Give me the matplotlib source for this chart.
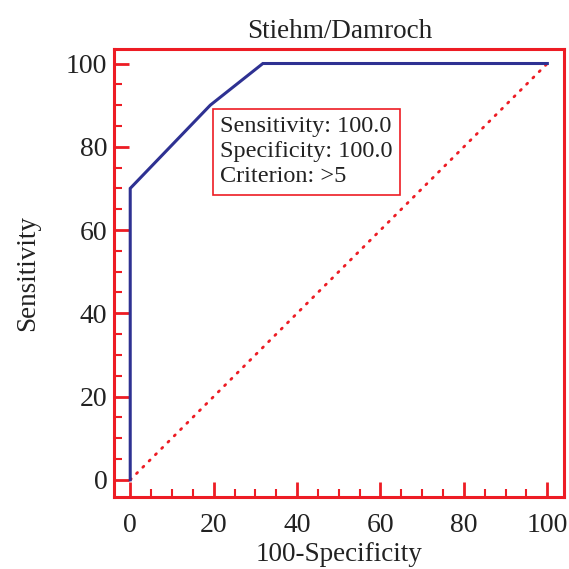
import numpy as np
import matplotlib.pyplot as plt
from matplotlib.ticker import MultipleLocator

# ROC curve values (100-Specificity, Sensitivity)
fpr = [0, 0, 19.2, 31.8, 100]
tpr = [0, 70, 90, 100, 100]
diag = [0, 100]
title = "Stiehm/Damroch"
info = ["Sensitivity: 100.0", "Specificity: 100.0", "Criterion: >5"]

red = '#ED1C24'
blue = '#2E3192'

plt.rcParams['font.family'] = ['Liberation Serif', 'DejaVu Serif']

fig = plt.figure(figsize=(5.69, 5.69), dpi=100)
ax = fig.add_axes([0.201, 0.126, 0.791, 0.788])

ax.plot(diag, diag, color=red, lw=2, linestyle=(0, (0.5, 2.7)), dash_capstyle='round')
ax.plot(fpr, tpr, color=blue, lw=2.2, solid_joinstyle='miter')

ax.set_xlim(-3.8, 104.1)
ax.set_ylim(-4.2, 103.5)

ax.xaxis.set_major_locator(MultipleLocator(20))
ax.yaxis.set_major_locator(MultipleLocator(20))
ax.xaxis.set_minor_locator(MultipleLocator(5))
ax.yaxis.set_minor_locator(MultipleLocator(5))

for s in ax.spines.values():
    s.set_color(red)
    s.set_linewidth(2.2)

ax.tick_params(which='major', direction='in', length=11, width=2, color=red,
               labelsize=20, pad=11, labelcolor='#222222')
ax.tick_params(axis='y', which='major', pad=5)
ax.tick_params(which='minor', direction='in', length=5.5, width=1.5, color=red)
ax.tick_params(top=False, right=False, which='both')

ax.set_title(title, fontsize=19.5, pad=8, color='#222222')
ax.set_xlabel("100-Specificity", fontsize=19.5, labelpad=3, color='#222222')
ax.set_ylabel("Sensitivity", fontsize=19.5, labelpad=19, color='#222222')

ax.text(21.5, 87.3, "\n".join(info), fontsize=17.5, va='top', ha='left', color='#222222',
        linespacing=1.25,
        bbox=dict(boxstyle='square,pad=0.3', facecolor='white', edgecolor=red, lw=1.2))

fig.savefig('out.png', dpi=100)
